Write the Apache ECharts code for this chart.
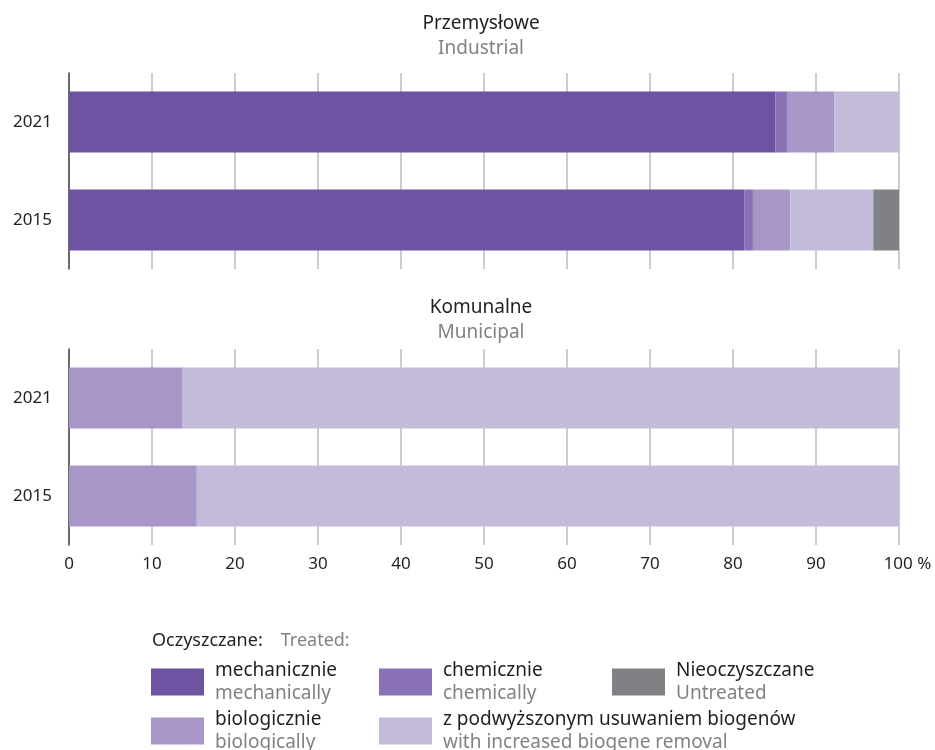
<!DOCTYPE html>
<html><head><meta charset="utf-8">
<script src="https://cdn.jsdelivr.net/npm/echarts@6/dist/echarts.min.js"></script>
<style>html,body{margin:0;padding:0;background:#fff}#c{width:935px;height:750px}</style>
</head><body><div id="c"></div>
<script>
const categories = ['2015', '2021'];
const seriesNamesPL = ['mechanicznie', 'chemicznie', 'biologicznie', 'z podwyższonym usuwaniem biogenów', 'Nieoczyszczane'];
const seriesNamesEN = ['mechanically', 'chemically', 'biologically', 'with increased biogene removal', 'Untreated'];
const colors = ['#6E53A2', '#8872B5', '#A896C8', '#C4BBDB', '#808184'];
// Industrial (Przemysłowe): [2015, 2021]
const indMech = [81.4, 85.1];
const indChem = [1.0, 1.4];
const indBio = [4.5, 5.7];
const indBiogen = [10.0, 7.8];
const indUntreated = [3.1, 0];
// Municipal (Komunalne): [2015, 2021]
const munMech = [0, 0];
const munChem = [0, 0];
const munBio = [15.4, 13.7];
const munBiogen = [84.6, 86.3];
const munUntreated = [0, 0];
const xTicks = [0, 10, 20, 30, 40, 50, 60, 70, 80, 90, 100];

const FONT = 'Noto Sans';
const DARK = '#231F20';
const GRAY = '#808285';

const indData = [indMech, indChem, indBio, indBiogen, indUntreated];
const munData = [munMech, munChem, munBio, munBiogen, munUntreated];

function mkSeries(dataSets, idx, stack) {
  return dataSets.map((d, i) => ({
    name: seriesNamesPL[i],
    type: 'bar',
    stack: stack,
    xAxisIndex: idx,
    yAxisIndex: idx,
    barWidth: 61,
    itemStyle: { color: colors[i] },
    emphasis: { disabled: true },
    data: d
  }));
}

function xAx(idx, showLabels) {
  return {
    type: 'value', gridIndex: idx, min: xTicks[0], max: xTicks[xTicks.length - 1], interval: 10,
    axisLine: { show: false }, axisTick: { show: false },
    splitLine: { show: true, lineStyle: { color: '#BDBDBD', width: 1.5 } },
    axisLabel: {
      show: showLabels, fontFamily: FONT, fontSize: 17, color: DARK, margin: 11,
      formatter: v => v === 100 ? '{p|100 %}' : String(v),
      rich: { p: { fontFamily: FONT, fontSize: 17, color: DARK, padding: [0, 0, 0, 17] } }
    }
  };
}
function yAx(idx) {
  return {
    type: 'category', gridIndex: idx, data: categories,
    axisLine: { show: true, lineStyle: { color: '#4A4A4A', width: 1.5 } },
    axisTick: { show: false },
    axisLabel: { fontFamily: FONT, fontSize: 17, color: DARK, margin: 17 }
  };
}

function legendFmt(name) {
  const i = seriesNamesPL.indexOf(name);
  return '{a|' + name + '}\n{b|' + seriesNamesEN[i] + '}';
}
const legendText = {
  rich: {
    a: { fontFamily: FONT, fontSize: 19, color: DARK, lineHeight: 23, padding: [0, 0, 0, 6] },
    b: { fontFamily: FONT, fontSize: 19, color: GRAY, lineHeight: 23, padding: [0, 0, 0, 6] }
  }
};
function mkLegend(left, names) {
  return {
    left: left, top: 661, height: 100, orient: 'vertical', itemGap: 7, padding: 0,
    itemWidth: 53, itemHeight: 27, icon: 'rect',
    selectedMode: false,
    data: names, formatter: legendFmt, textStyle: legendText
  };
}

const titleRich = {
  a: { fontFamily: FONT, fontSize: 19, color: DARK, lineHeight: 25, fontWeight: 'normal' },
  b: { fontFamily: FONT, fontSize: 19, color: GRAY, lineHeight: 25, fontWeight: 'normal' }
};

const chart = echarts.init(document.getElementById('c'), null, { renderer: 'canvas' });
chart.setOption({
  animation: false,
  backgroundColor: '#fff',
  title: [
    { text: '{a|Przemysłowe}\n{b|Industrial}', left: 481, top: 11, padding: 0, textAlign: 'center',
      textStyle: { rich: titleRich, align: 'center', fontWeight: 'normal' } },
    { text: '{a|Komunalne}\n{b|Municipal}', left: 481, top: 295, padding: 0, textAlign: 'center',
      textStyle: { rich: titleRich, align: 'center', fontWeight: 'normal' } },
    { text: '{a|Oczyszczane:}{b|Treated:}', left: 152, top: 632, padding: 0,
      textStyle: { fontWeight: 'normal', rich: {
        a: { fontFamily: FONT, fontSize: 18, color: DARK, fontWeight: 'normal' },
        b: { fontFamily: FONT, fontSize: 18, color: GRAY, fontWeight: 'normal', padding: [0, 0, 0, 18] } } } }
  ],
  legend: [
    mkLegend(151, [seriesNamesPL[0], seriesNamesPL[2]]),
    mkLegend(379, [seriesNamesPL[1], seriesNamesPL[3]]),
    mkLegend(612, [seriesNamesPL[4]])
  ],
  grid: [
    { left: 69, right: 36, top: 73, height: 196 },
    { left: 69, right: 36, top: 349, height: 196 }
  ],
  xAxis: [xAx(0, false), xAx(1, true)],
  yAxis: [yAx(0), yAx(1)],
  series: [...mkSeries(indData, 0, 'ind'), ...mkSeries(munData, 1, 'mun')]
});
</script>
</body></html>
